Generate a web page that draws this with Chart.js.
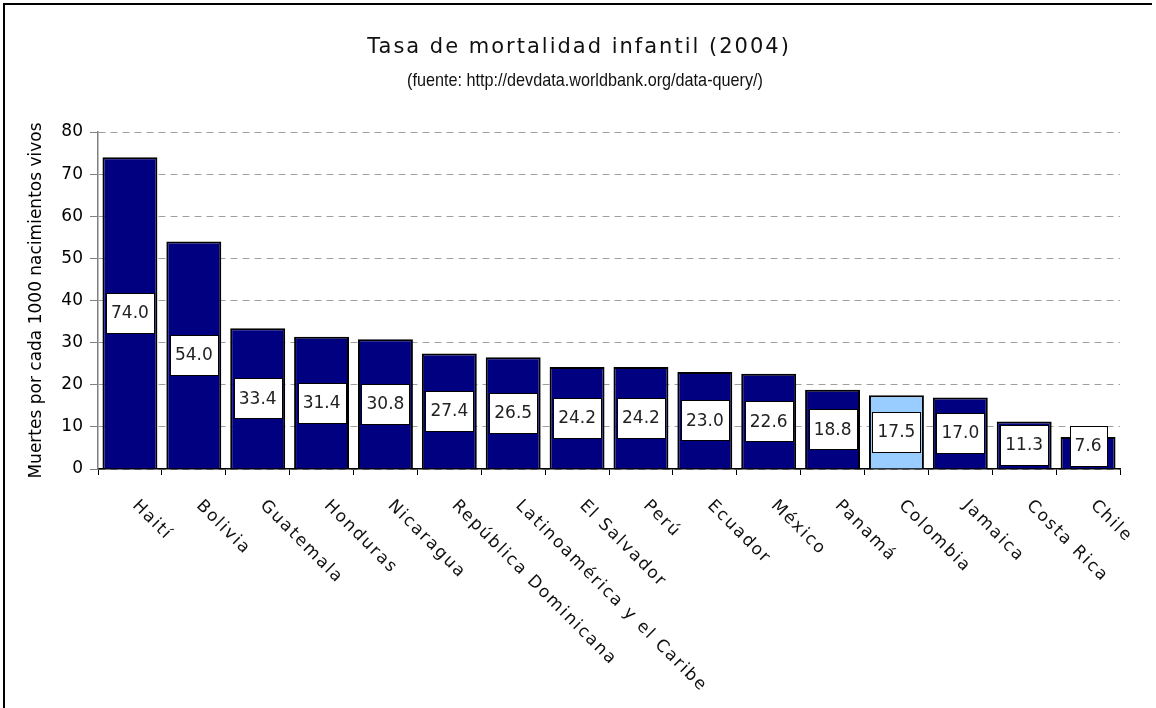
<!DOCTYPE html>
<html>
<head>
<meta charset="utf-8">
<script src="https://cdn.jsdelivr.net/npm/chart.js@4/dist/chart.umd.min.js"></script>
<style>
html, body { margin: 0; padding: 0; background: #fff; }
</style>
</head>
<body>
<canvas id="myChart" width="1156" height="708"></canvas>
<script>
// datos del grafico (tasa por cada 1000 nacidos vivos)
const paises = ['Haití', 'Bolivia', 'Guatemala', 'Honduras', 'Nicaragua',
    'República Dominicana', 'Latinoamérica y el Caribe', 'El Salvador', 'Perú',
    'Ecuador', 'México', 'Panamá', 'Colombia', 'Jamaica', 'Costa Rica', 'Chile'];
const tasas = [74.0, 54.0, 33.4, 31.4, 30.8, 27.4, 26.5, 24.2, 24.2, 23.0, 22.6,
    18.8, 17.5, 17.0, 11.3, 7.6];
const destacado = 'Colombia';
const yMin = 0;
const yMax = 80;
const yPaso = 10;

const titulo = 'Tasa de mortalidad infantil (2004)';
const subtitulo = '(fuente: http://devdata.worldbank.org/data-query/)';
const tituloEjeY = 'Muertes por cada 1000 nacimientos vivos';

const colores = paises.map(p => p === destacado ? '#99ccff' : '#000080');

// marco, titulo y subtitulo
const marco = {
    id: 'marco',
    beforeDraw(chart) {
        const ctx = chart.ctx;
        ctx.save();
        ctx.fillStyle = '#fff';
        ctx.fillRect(0, 0, chart.width, chart.height);
        ctx.strokeStyle = '#000';
        ctx.lineWidth = 2;
        ctx.beginPath();
        ctx.moveTo(4, chart.height);
        ctx.lineTo(4, 4);
        ctx.lineTo(1152, 4);
        ctx.stroke();

        ctx.fillStyle = '#111';
        ctx.textAlign = 'center';
        ctx.textBaseline = 'middle';
        ctx.font = '21px "DejaVu Sans"';
        ctx.letterSpacing = '2px';
        ctx.fillText(titulo, chart.width / 2 + 1, 48);

        ctx.letterSpacing = '0px';
        ctx.font = '19px "Liberation Sans"';
        const w = ctx.measureText(subtitulo).width;
        const esc = 356 / w;
        ctx.translate(chart.width / 2 + 7, 81);
        ctx.scale(esc, 1);
        ctx.fillText(subtitulo, 0, 0);
        ctx.restore();
    }
};

// nombres de los paises inclinados
const etiquetasX = {
    id: 'etiquetasX',
    afterDraw(chart) {
        const ctx = chart.ctx;
        const x = chart.scales.x;
        const base = chart.chartArea.bottom;
        ctx.save();
        ctx.fillStyle = '#111';
        ctx.font = '17px "DejaVu Sans"';
        ctx.letterSpacing = '1.8px';
        ctx.textAlign = 'left';
        ctx.textBaseline = 'top';
        paises.forEach((p, i) => {
            ctx.save();
            ctx.translate(x.getPixelForValue(i) + 11, base + 28);
            ctx.rotate(Math.PI / 4);
            ctx.fillText(p, 0, 0);
            ctx.restore();
        });
        ctx.restore();
    }
};

// cajas blancas con el valor
const valores = {
    id: 'valores',
    afterDatasetsDraw(chart) {
        const ctx = chart.ctx;
        const meta = chart.getDatasetMeta(0);
        ctx.save();
        ctx.font = '17px "DejaVu Sans"';
        ctx.textAlign = 'center';
        ctx.textBaseline = 'middle';
        meta.data.forEach((bar, i) => {
            const txt = tasas[i].toFixed(1);
            const w = Math.round(ctx.measureText(txt).width + 10);
            const h = 40;
            let cy = (bar.y + bar.base) / 2;
            // que la caja no pase del eje
            if (cy + h / 2 > bar.base - 3) cy = bar.base - 3 - h / 2;
            const x0 = Math.round(bar.x - w / 2) + 0.5;
            const y0 = Math.round(cy - h / 2) + 0.5;
            ctx.fillStyle = '#fff';
            ctx.fillRect(x0, y0, w, h);
            ctx.strokeStyle = '#000';
            ctx.lineWidth = 1;
            ctx.strokeRect(x0, y0, w, h);
            ctx.fillStyle = '#222';
            ctx.fillText(txt, bar.x, cy + 1);
        });
        ctx.restore();
    }
};

const data = {
    labels: paises,
    datasets: [{
        label: 'Tasa',
        data: tasas,
        backgroundColor: colores,
        borderColor: '#000',
        borderWidth: 2,
        categoryPercentage: 1,
        barPercentage: 0.86
    }]
};

const config = {
    type: 'bar',
    data: data,
    options: {
        responsive: false,
        animation: false,
        devicePixelRatio: 1,
        layout: { padding: { top: 132, left: 8, right: 36, bottom: 9 } },
        plugins: {
            legend: { display: false },
            tooltip: { enabled: false },
            title: { display: false }
        },
        scales: {
            x: {
                ticks: { display: false },
                grid: {
                    drawOnChartArea: false,
                    drawTicks: true,
                    tickLength: 6,
                    tickColor: '#000',
                    tickWidth: 1
                },
                border: { color: '#000', width: 1.5 },
                afterFit(s) { s.height = 230; }
            },
            y: {
                min: yMin,
                max: yMax,
                ticks: {
                    stepSize: yPaso,
                    color: '#000',
                    padding: 7,
                    font: { family: 'DejaVu Sans', size: 17 }
                },
                grid: {
                    color: '#a0a0a0',
                    lineWidth: 1,
                    tickLength: 8,
                    tickColor: '#808080',
                    tickBorderDash: []
                },
                border: { color: '#808080', width: 1.5, dash: [7, 5] },
                title: {
                    display: true,
                    text: tituloEjeY,
                    color: '#000',
                    font: { family: 'DejaVu Sans', size: 17 },
                    padding: { top: 18, bottom: 0 }
                },
                afterFit(s) { s.width = 90; }
            }
        }
    },
    plugins: [marco, valores, etiquetasX]
};

const myChart = new Chart(document.getElementById('myChart'), config);
</script>
</body>
</html>
